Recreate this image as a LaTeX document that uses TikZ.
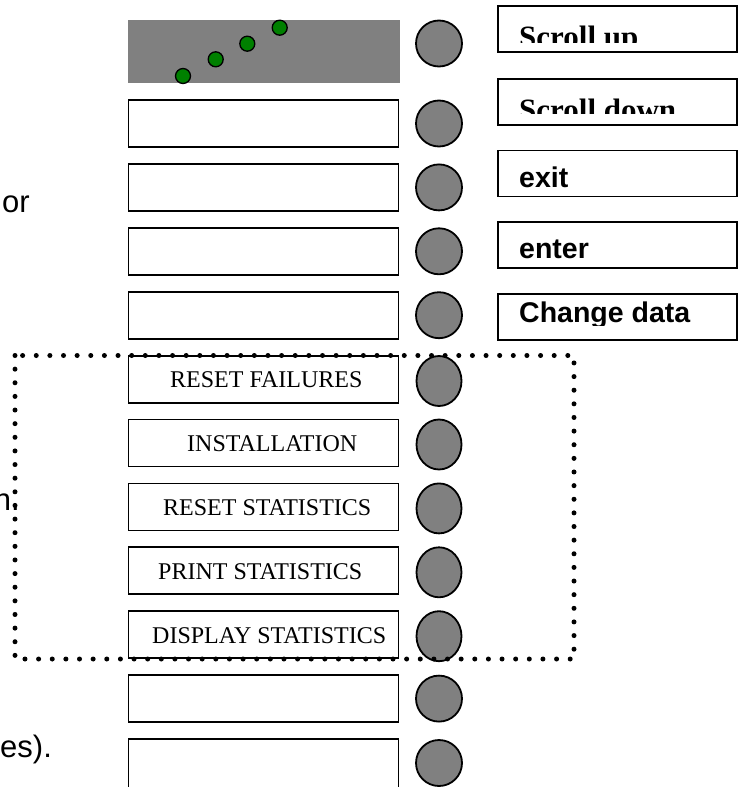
\documentclass[tikz,border=0pt]{standalone}
\usepackage{fontspec}
\setmainfont{Liberation Serif}
\setsansfont{Liberation Sans}
\usetikzlibrary{shapes.geometric}
\definecolor{btngray}{RGB}{128,128,128}
\definecolor{ledgreen}{RGB}{0,128,0}

\begin{document}
\begin{tikzpicture}[x=1pt,y=-1pt,
  lbox/.style={draw,line width=1.8pt,minimum width=270pt,minimum height=47pt,inner sep=0pt},
  rbox/.style={draw,line width=1.8pt,minimum width=239pt,minimum height=46pt,inner sep=0pt},
  knob/.style={draw,circle,line width=1.8pt,fill=btngray,minimum size=46pt,inner sep=0pt},
  oknob/.style={draw,ellipse,line width=1.8pt,fill=btngray,minimum width=45pt,minimum height=50pt,inner sep=0pt},
  led/.style={draw,circle,line width=1.3pt,fill=ledgreen,minimum size=15pt,inner sep=0pt},
  lbl/.style={anchor=base west,inner sep=0pt,font=\fontsize{24}{24}\selectfont},
  rtxt/.style={anchor=base west,inner sep=0pt},
  frag/.style={inner sep=0pt,font=\sffamily\fontsize{31}{31}\selectfont}
]
  \useasboundingbox (0,0) rectangle (743,787);
  % display with LEDs
  \node[fill=btngray,minimum width=272pt,minimum height=63pt,inner sep=0pt] (disp) at (264,51.5) {};
  \node[led] (led1) at (183,76) {};
  \node[led] (led2) at (215.7,59.3) {};
  \node[led] (led3) at (247.3,43.7) {};
  \node[led] (led4) at (279.7,27.7) {};
  \node[knob] (k1) at (439,43.5) {};

  % button column
  \node[lbox] (b2) at (263.5,123.5) {};   \node[knob] (k2) at (439,123.5) {};
  \node[lbox] (b3) at (263.5,187.4) {};   \node[knob] (k3) at (439,187.4) {};
  \node[lbox] (b4) at (263.5,251.3) {};   \node[knob] (k4) at (439,251.3) {};
  \node[lbox] (b5) at (263.5,315.2) {};   \node[knob] (k5) at (439,315.2) {};
  \node[lbox] (b6) at (263.5,379.1) {};   \node[oknob] (k6) at (439,381) {};
  \node[lbox] (b7) at (263.5,443) {};     \node[oknob] (k7) at (439,444.5) {};
  \node[lbox] (b8) at (263.5,506.9) {};   \node[oknob] (k8) at (439,508.4) {};
  \node[lbox] (b9) at (263.5,570.8) {};   \node[oknob] (k9) at (439,572.3) {};
  \node[lbox] (b10) at (263.5,634.7) {};  \node[oknob] (k10) at (439,636.2) {};
  \node[lbox] (b11) at (263.5,698.6) {};  \node[knob] (k11) at (439,698.6) {};
  \node[lbox,minimum height=61pt] (b12) at (263.5,769.5) {};  \node[knob] (k12) at (439,763) {};

  \node[lbl] (t6) at (170,387) {RESET FAILURES};
  \node[lbl] (t7) at (187,451) {INSTALLATION};
  \node[lbl] (t8) at (163,515) {RESET STATISTICS};
  \node[lbl] (t9) at (158,579) {PRINT STATISTICS};
  \node[lbl] (t10) at (152,643) {DISPLAY STATISTICS};

  % key legend
  \node[rbox] (r1) at (617.5,29) {};
  \node[rbox] (r2) at (617.5,102) {};
  \node[rbox] (r3) at (617.5,173.5) {};
  \node[rbox] (r4) at (617.5,245) {};
  \node[rbox] (r5) at (617.5,317) {};
  \begin{scope}
    \clip (497,0) rectangle (738,42);
    \node[rtxt,font=\bfseries\fontsize{31}{31}\selectfont] (up) at (519,47.5) {Scroll up};
  \end{scope}
  \begin{scope}
    \clip (497,78) rectangle (738,113);
    \node[rtxt,font=\bfseries\fontsize{31}{31}\selectfont] (down) at (519,120.5) {Scroll down};
  \end{scope}
  \node[rtxt,font=\sffamily\bfseries\fontsize{28.5}{30}\selectfont] (exit) at (519,187) {exit};
  \node[rtxt,font=\sffamily\bfseries\fontsize{28.5}{30}\selectfont] (enter) at (519,258) {enter};
  \begin{scope}
    \clip (497,293) rectangle (738,325);
    \node[rtxt,font=\sffamily\bfseries\fontsize{28.5}{30}\selectfont] (chg) at (519,322.5) {Change data};
  \end{scope}

  % cut-off text on the left
  \node[frag,anchor=base west] (f1) at (2,212) {or};
  \node[frag,anchor=base east] (f2) at (20,510) {n.};
  \node[frag,anchor=base west] (f3) at (0,757) {es).};

  % service group
  \draw[line width=5pt,line cap=round,dash pattern=on 0pt off 13.63pt] (15,355.5) rectangle (574,659);
\end{tikzpicture}
\end{document}
